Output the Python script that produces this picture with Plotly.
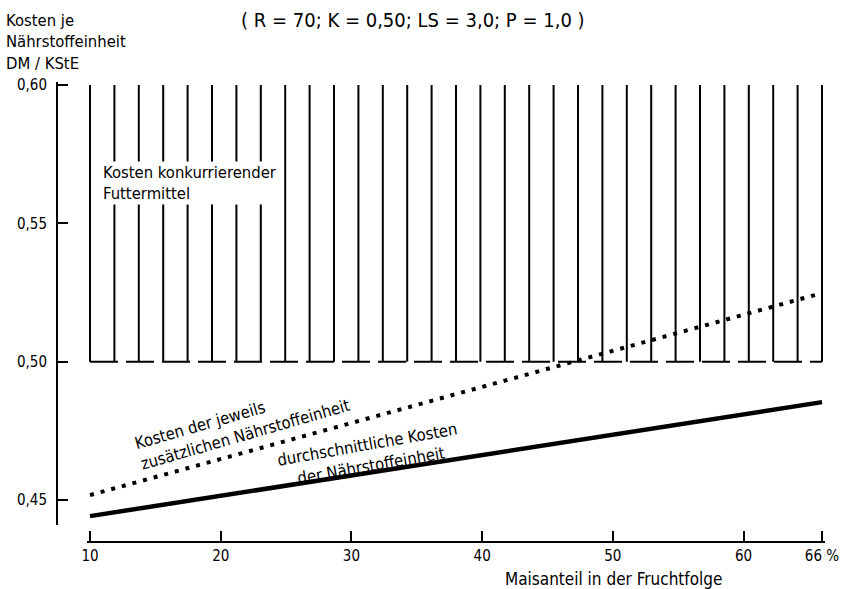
import plotly.graph_objects as go

# ---- data ----
mais_anteil = [10, 20, 30, 40, 50, 60, 66]
durchschnitt = [0.4442, 0.4516, 0.4589, 0.4663, 0.4736, 0.4810, 0.4854]
zusaetzlich = [0.4518, 0.4648, 0.4778, 0.4909, 0.5039, 0.5169, 0.5248]
konkurrenz_low = 0.50
konkurrenz_high = 0.60
x_ticks = [10, 20, 30, 40, 50, 60, 66]
x_ticklabels = ["10", "20", "30", "40", "50", "60", "66 %"]
y_ticks = [0.45, 0.50, 0.55, 0.60]
y_ticklabels = ["0,45", "0,50", "0,55", "0,60"]
n_hatch = 31

W, H = 851, 589
def px(x):
    return x / W
def py(y):
    return 1 - y / H

FONT = "DejaVu Sans Condensed"

fig = go.Figure()

# hatched region of competing feed costs (vertical comb lines)
x0, x1 = mais_anteil[0], mais_anteil[-1]
hx, hy = [], []
for i in range(n_hatch):
    xv = x0 + (x1 - x0) * i / (n_hatch - 1)
    hx += [xv, xv, None]
    hy += [konkurrenz_low, konkurrenz_high, None]
fig.add_trace(go.Scatter(x=hx, y=hy, mode="lines",
                         line=dict(color="black", width=2), hoverinfo="skip",
                         showlegend=False))
fig.add_trace(go.Scatter(x=[x0, x1], y=[konkurrenz_low, konkurrenz_low], mode="lines",
                         line=dict(color="black", width=2, dash="28px,8px"),
                         hoverinfo="skip", showlegend=False))

fig.add_trace(go.Scatter(x=mais_anteil, y=zusaetzlich, mode="lines",
                         line=dict(color="black", width=4, dash="4px,7px"),
                         showlegend=False))
fig.add_trace(go.Scatter(x=mais_anteil, y=durchschnitt, mode="lines",
                         line=dict(color="black", width=4.5),
                         showlegend=False))

ppu = (822 - 90) / 56.0
xr = [9.75, 66.25]
xd = [px(90 - 0.25 * ppu), px(822 + 0.25 * ppu)]

fig.update_layout(
    template="none",
    width=W, height=H,
    margin=dict(l=0, r=0, t=0, b=0, pad=0),
    paper_bgcolor="white", plot_bgcolor="white",
    font=dict(family=FONT, size=15, color="black"),
    xaxis=dict(range=xr, domain=xd, anchor="free", position=py(542),
               automargin=False,
               showline=True, linecolor="black", linewidth=2,
               ticks="inside", ticklen=10, tickwidth=2, tickcolor="black",
               tickvals=x_ticks, ticktext=x_ticklabels,
               showgrid=False, zeroline=False,
               tickfont=dict(family=FONT, size=15)),
    yaxis=dict(range=[0.441, 0.6012], domain=[py(525), py(85 - 0.0012 * 2767)],
               anchor="free", position=px(57), automargin=False,
               showline=True, linecolor="black", linewidth=2,
               ticks="inside", ticklen=10, tickwidth=2, tickcolor="black",
               tickvals=y_ticks, ticktext=y_ticklabels, ticklabelstandoff=6,
               showgrid=False, zeroline=False,
               tickfont=dict(family=FONT, size=15)),
)

ann = [
    dict(text="( R = 70; K = 0,50; LS = 3,0; P = 1,0 )", x=px(413), y=py(20),
         font=dict(size=20)),
    dict(text="Kosten je<br>Nährstoffeinheit<br>DM / KStE", x=px(4), y=py(9),
         xanchor="left", yanchor="top", align="left", font=dict(size=16.5)),
    dict(text="Kosten konkurrierender<br>Futtermittel", x=px(101), y=py(183),
         xanchor="left", align="left", font=dict(size=16.5), bgcolor="white"),
    dict(text="Kosten der jeweils<br>zusätzlichen Nährstoffeinheit", x=px(243), y=py(424),
         align="left", textangle=-16, font=dict(size=16.5)),
    dict(text="durchschnittliche Kosten<br>der Nährstoffeinheit", x=px(369), y=py(455),
         align="center", textangle=-10, font=dict(size=16.5)),
    dict(text="Maisanteil in der Fruchtfolge", x=px(613), y=py(579),
         font=dict(size=17)),
]
for a in ann:
    a.setdefault("xanchor", "center")
    a.setdefault("yanchor", "middle")
    fig.add_annotation(xref="paper", yref="paper", showarrow=False, **a)

fig.write_html("out.html", config={"displayModeBar": False},
               post_script="document.body.style.margin='0';document.body.style.overflow='hidden';")
